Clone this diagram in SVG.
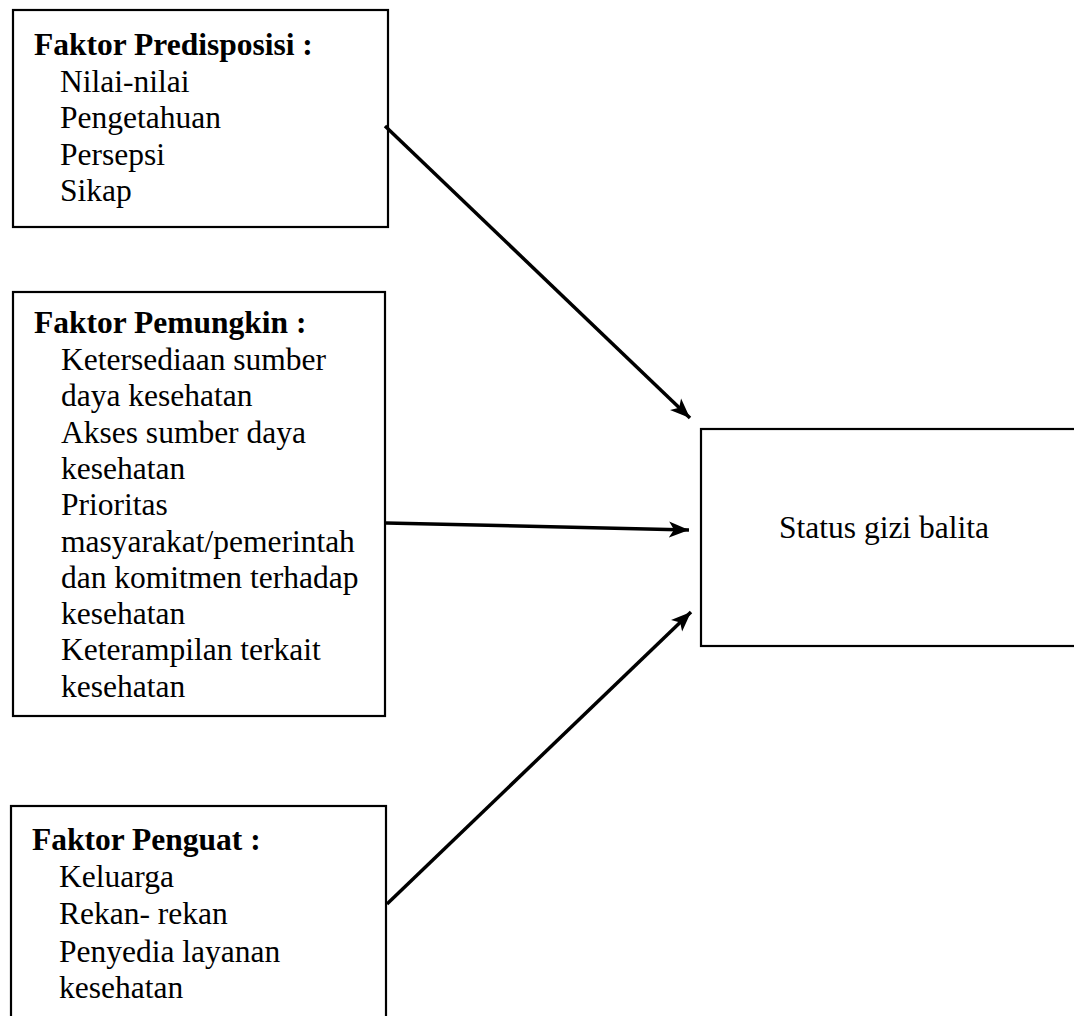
<svg xmlns="http://www.w3.org/2000/svg" width="1074" height="1016" viewBox="0 0 1074 1016">
<style>
.box{fill:#fff;stroke:#000;stroke-width:2.2}
.t{font-family:"Liberation Serif","Times New Roman",serif;font-size:31.5px;fill:#000}
.b{font-weight:bold}
.c{stroke:#000;stroke-width:3.5;fill:none}
</style>
<defs>
<marker id="ah" markerWidth="22" markerHeight="18" viewBox="0 0 22 18" refX="20" refY="9" orient="auto" markerUnits="userSpaceOnUse">
<path d="M0,1 L20,9 L0,17 L5,9 Z" fill="#000"/>
</marker>
</defs>
<rect width="1074" height="1016" fill="#fff"/>
<g id="n1">
<rect class="box" x="13" y="10" width="375" height="217"/>
<text class="t b" x="34" y="55">Faktor Predisposisi :</text>
<text class="t" x="60" y="92">Nilai-nilai</text>
<text class="t" x="60" y="128">Pengetahuan</text>
<text class="t" x="60" y="165">Persepsi</text>
<text class="t" x="60" y="201">Sikap</text>
</g>
<g id="n2">
<rect class="box" x="13" y="292" width="372" height="424"/>
<text class="t b" x="34" y="333">Faktor Pemungkin :</text>
<text class="t" x="61" y="370">Ketersediaan sumber</text>
<text class="t" x="61" y="406">daya kesehatan</text>
<text class="t" x="61" y="443">Akses sumber daya</text>
<text class="t" x="61" y="479">kesehatan</text>
<text class="t" x="61" y="515">Prioritas</text>
<text class="t" x="61" y="552">masyarakat/pemerintah</text>
<text class="t" x="61" y="588">dan komitmen terhadap</text>
<text class="t" x="61" y="624">kesehatan</text>
<text class="t" x="61" y="660">Keterampilan terkait</text>
<text class="t" x="61" y="697">kesehatan</text>
</g>
<g id="n3">
<rect class="box" x="11" y="806" width="375" height="230"/>
<text class="t b" x="32" y="850">Faktor Penguat :</text>
<text class="t" x="59" y="887">Keluarga</text>
<text class="t" x="59" y="924">Rekan- rekan</text>
<text class="t" x="59" y="962">Penyedia layanan</text>
<text class="t" x="59" y="998">kesehatan</text>
</g>
<g id="n4">
<rect class="box" x="701" y="429" width="380" height="217"/>
<text class="t" x="779" y="538">Status gizi balita</text>
</g>
<g id="connectors">
<line class="c" x1="385" y1="126" x2="690" y2="418" marker-end="url(#ah)"/>
<line class="c" x1="386" y1="523" x2="689" y2="530" marker-end="url(#ah)"/>
<line class="c" x1="387" y1="904" x2="691" y2="612" marker-end="url(#ah)"/>
</g>
</svg>
